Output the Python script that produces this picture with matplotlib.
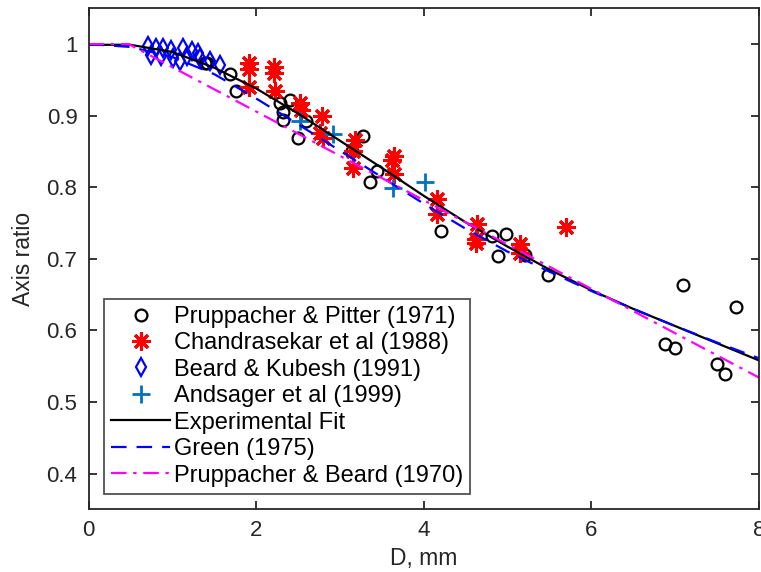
import matplotlib
matplotlib.use('Agg')
import numpy as np
from matplotlib import pyplot as plt

plt.rcParams['font.family'] = ['Liberation Sans', 'DejaVu Sans']

pp_D = [1.39, 1.41, 1.69, 1.76, 2.29, 2.40, 2.32, 2.32, 2.60, 2.50, 3.28, 3.14,
        3.44, 3.36, 4.21, 4.81, 4.98, 4.89, 5.21, 5.48, 7.09, 7.73, 6.88, 7.00,
        7.50, 7.60]
pp_ar = [0.973, 0.974, 0.958, 0.934, 0.918, 0.922, 0.905, 0.894, 0.892, 0.869,
         0.871, 0.850, 0.822, 0.808, 0.739, 0.732, 0.735, 0.704, 0.705, 0.677,
         0.663, 0.633, 0.581, 0.576, 0.553, 0.539]

ch_D = [1.91, 1.91, 1.92, 2.21, 2.21, 2.23, 2.52, 2.54, 2.78, 2.76, 2.80, 3.18,
        3.16, 3.16, 3.64, 3.62, 3.64, 4.16, 4.16, 4.63, 4.62, 4.62, 5.15, 5.15,
        5.70]
ch_ar = [0.973, 0.965, 0.940, 0.968, 0.960, 0.934, 0.918, 0.908, 0.900, 0.876,
         0.869, 0.866, 0.850, 0.827, 0.843, 0.838, 0.818, 0.784, 0.762, 0.748,
         0.728, 0.722, 0.720, 0.708, 0.745]

bk_D = [0.71, 0.81, 0.89, 0.99, 1.13, 1.23, 1.31, 1.33, 1.45, 1.57, 0.75, 0.87,
        1.01, 1.09, 1.17]
bk_ar = [0.997, 0.994, 0.994, 0.992, 0.994, 0.990, 0.987, 0.980, 0.976, 0.971,
         0.985, 0.983, 0.980, 0.976, 0.983]

an_D = [2.52, 2.92, 3.63, 4.02]
an_ar = [0.892, 0.875, 0.799, 0.807]

# === Courbes ===
fit_D = [0, 0.5, 1, 1.5, 2, 2.5, 3, 3.5, 4, 4.5, 5, 5.5, 6, 6.5, 7, 7.5, 8]
fit_ar = [0.999, 0.999, 0.989, 0.967, 0.938, 0.903, 0.865, 0.827, 0.788, 0.751,
          0.717, 0.685, 0.656, 0.630, 0.606, 0.582, 0.558]

green_D = [0, 0.5, 1, 1.5, 2, 2.5, 3, 3.5, 4, 4.5, 5, 5.5, 6, 6.5, 7, 7.5, 8]
green_ar = [1.0, 0.996, 0.982, 0.958, 0.924, 0.888, 0.851, 0.814, 0.777, 0.742,
            0.710, 0.682, 0.655, 0.630, 0.606, 0.583, 0.561]

pb_D = [0, 0.48, 8]
pb_ar = [1.0, 1.0, 0.534]

# === Figure ===
fig = plt.figure(figsize=(7.61, 5.72), dpi=100)
ax = fig.add_axes([0.1163, 0.1096, 0.8811, 0.8759])

ax.plot(pp_D, pp_ar, 'o', mfc='none', mec='k', ms=8.5, mew=1.6,
        label='Pruppacher & Pitter (1971)')
ax.plot(ch_D, ch_ar, ls='none', marker=(8, 2, 0), color='red', ms=13, mew=2.2,
        label='Chandrasekar et al (1988)')
ax.plot(bk_D, bk_ar, 'd', mfc='none', mec='blue', ms=9, mew=1.6,
        label='Beard & Kubesh (1991)')
ax.plot(an_D, an_ar, '+', color='#0072BD', ms=13, mew=2,
        label='Andsager et al (1999)')
ax.plot(fit_D, fit_ar, 'k-', lw=1.6, label='Experimental Fit')
ax.plot(green_D, green_ar, color='blue', lw=1.6, dashes=(7, 4.5),
        label='Green (1975)')
ax.plot(pb_D, pb_ar, color='magenta', lw=1.6, dashes=(7, 3, 1.5, 3),
        label='Pruppacher & Beard (1970)')

ax.set_xlim(0, 8)
ax.set_ylim(0.35, 1.05)
ax.set_xticks([0, 2, 4, 6, 8])
ax.set_yticks([0.4, 0.5, 0.6, 0.7, 0.8, 0.9, 1.0])
ax.set_yticklabels(['0.4', '0.5', '0.6', '0.7', '0.8', '0.9', '1'])
ax.tick_params(direction='in', length=6, width=1.3, top=True, right=True,
               labelsize=16, colors='#262626', pad=8)
for s in ax.spines.values():
    s.set_color('#262626')
    s.set_linewidth(1.3)

ax.set_xlabel('D, mm', fontsize=16.5, color='#262626', labelpad=4)
ax.set_ylabel('Axis ratio', fontsize=16.5, color='#262626', labelpad=8)

leg = ax.legend(loc='lower left', bbox_to_anchor=(0.023, 0.031), fontsize=17,
                frameon=True, fancybox=False, edgecolor='#262626',
                handlelength=2.5, handletextpad=0.15, labelspacing=0.19,
                borderpad=0.3, borderaxespad=0)
leg.get_frame().set_linewidth(1.3)

fig.savefig('out.png', dpi=100)
